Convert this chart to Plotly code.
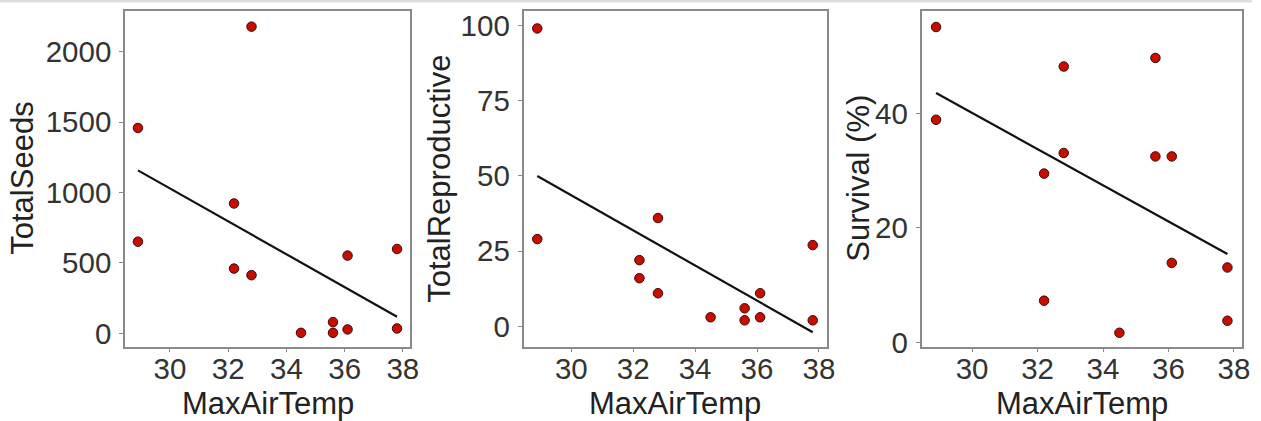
import numpy as np
import plotly.graph_objects as go

# ---- data ----
max_air_temp = [28.9, 28.9, 32.2, 32.2, 32.8, 32.8, 34.5, 35.6, 35.6, 36.1, 36.1, 37.8, 37.8]
total_seeds = [1458, 651, 922, 460, 2177, 413, 4, 80, 4, 552, 28, 599, 35]
total_repro_x = [28.9, 28.9, 32.2, 32.2, 32.8, 32.8, 34.5, 35.6, 35.6, 36.1, 36.1, 37.8, 37.8]
total_reproductive = [99, 29, 22, 16, 36, 11, 3, 6, 2, 11, 3, 27, 2]
survival_x = [28.9, 28.9, 32.2, 32.2, 32.8, 32.8, 34.5, 35.6, 35.6, 36.1, 36.1, 37.8, 37.8]
survival = [55.1, 38.9, 29.5, 7.3, 48.2, 33.1, 1.7, 49.7, 32.5, 32.5, 13.9, 13.1, 3.8]

x_title = "MaxAirTemp"
y_titles = ["TotalSeeds", "TotalReproductive", "Survival (%)"]
x_ticks = [30, 32, 34, 36, 38]
y_ticks = [[0, 500, 1000, 1500, 2000], [0, 25, 50, 75, 100], [0, 20, 40]]

panels = [(max_air_temp, total_seeds), (total_repro_x, total_reproductive), (survival_x, survival)]

# ---- layout geometry ----
W, H = 1261, 421
x_px = [(125, 410), (523.5, 826.5), (921.5, 1242)]
y_px = (11, 346.5)
x_range = [28.455, 38.245]
y_ranges = [[-93, 2288], [-6.7, 104.8], [-0.7, 57.9]]
ytitle_x = [23, 440, 859]

FONT = "Liberation Sans, Arial, sans-serif"

fig = go.Figure()

axis_common = dict(
    showgrid=False, zeroline=False, showline=True, mirror=True,
    linecolor="#8a8a8a", linewidth=1.6,
    ticks="outside", ticklen=4, tickwidth=1.2, tickcolor="#8a8a8a",
    tickfont=dict(family=FONT, size=29.5, color="#333333"),
    automargin=False, fixedrange=True,
)

for i, (xs, ys) in enumerate(panels):
    xa = "x" if i == 0 else f"x{i+1}"
    ya = "y" if i == 0 else f"y{i+1}"
    xs_a = np.array(xs, dtype=float)
    ys_a = np.array(ys, dtype=float)
    slope, intercept = np.polyfit(xs_a, ys_a, 1)
    lx = np.array([xs_a.min(), xs_a.max()])
    fig.add_trace(go.Scatter(
        x=lx, y=slope * lx + intercept, mode="lines",
        line=dict(color="#111111", width=2.2),
        xaxis=xa, yaxis=ya, showlegend=False, hoverinfo="skip"))
    fig.add_trace(go.Scatter(
        x=xs, y=ys, mode="markers",
        marker=dict(size=9.5, color="#c80d00", line=dict(color="#3a0a05", width=1)),
        xaxis=xa, yaxis=ya, showlegend=False))

    xd = [x_px[i][0] / W, x_px[i][1] / W]
    yd = [1 - y_px[1] / H, 1 - y_px[0] / H]
    fig.update_layout(**{
        ("xaxis" if i == 0 else f"xaxis{i+1}"): dict(
            axis_common, domain=xd, range=x_range, tickvals=x_ticks,
            anchor=ya, ticklabelstandoff=-9),
        ("yaxis" if i == 0 else f"yaxis{i+1}"): dict(
            axis_common, domain=yd, range=y_ranges[i], tickvals=y_ticks[i],
            anchor=xa, ticklabelstandoff=2),
    })
    # axis titles
    fig.add_annotation(
        text=x_title, xref="paper", yref="paper",
        x=(xd[0] + xd[1]) / 2, y=1 - 403 / H, xanchor="center", yanchor="middle",
        showarrow=False, font=dict(family=FONT, size=31, color="#222222"))
    fig.add_annotation(
        text=y_titles[i], xref="paper", yref="paper",
        x=ytitle_x[i] / W, y=(yd[0] + yd[1]) / 2, xanchor="center", yanchor="middle",
        textangle=-90, showarrow=False, font=dict(family=FONT, size=31, color="#222222"))

# faint strip at the top of the image
fig.add_shape(type="rect", xref="paper", yref="paper",
              x0=0, x1=1252 / W, y0=1 - 2.5 / H, y1=1,
              line=dict(width=0), fillcolor="#dedede", layer="below")

fig.update_layout(
    width=W, height=H,
    margin=dict(l=0, r=0, t=0, b=0),
    paper_bgcolor="white", plot_bgcolor="white",
    showlegend=False,
)

fig.write_html(
    "out.html",
    config={"displayModeBar": False},
    post_script="document.body.style.margin='0';document.body.style.overflow='hidden';",
)
